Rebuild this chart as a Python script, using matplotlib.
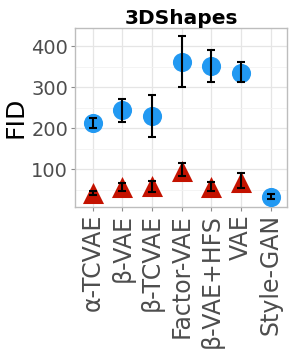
import matplotlib.pyplot as plt
import numpy as np

# Данные
models = ["α-TCVAE", "β-VAE", "β-TCVAE", "Factor-VAE", "β-VAE+HFS", "VAE", "Style-GAN"]
fid_circle = [212, 244, 231, 362, 353, 336, 32]
circle_lo = [201, 215, 179, 301, 313, 314, 27]
circle_hi = [224, 272, 282, 425, 392, 361, 38]

tri_models = ["α-TCVAE", "β-VAE", "β-TCVAE", "Factor-VAE", "β-VAE+HFS", "VAE"]
fid_tri = [41, 57, 58, 96, 57, 68]
tri_lo = [37, 47, 43, 83, 46, 54]
tri_hi = [47, 66, 72, 116, 69, 90]

yticks = [100, 200, 300, 400]

fig = plt.figure(figsize=(2.91, 3.64), dpi=100)
ax = fig.add_axes([0.258, 0.431, 0.728, 0.492])

xc = np.arange(len(models))
xt = np.array([models.index(m) for m in tri_models])

ax.scatter(xc, fid_circle, s=190, marker='o', color='#2299F2', zorder=3, linewidths=0)
ax.scatter(xt, fid_tri, s=230, marker='^', color='#C41200', zorder=3, linewidths=0)

ax.errorbar(xc, fid_circle,
            yerr=[np.array(fid_circle) - circle_lo, np.array(circle_hi) - fid_circle],
            fmt='none', ecolor='black', elinewidth=1.5, capsize=3, capthick=1.5, zorder=4)
ax.errorbar(xt, fid_tri,
            yerr=[np.array(fid_tri) - tri_lo, np.array(tri_hi) - fid_tri],
            fmt='none', ecolor='black', elinewidth=1.5, capsize=3, capthick=1.5, zorder=4)

ax.set_xlim(-0.6, 6.55)
ax.set_ylim(7, 445)
ax.set_xticks(xc)
ax.set_xticklabels(models, rotation=90, fontsize=17, color='#4D4D4D')
ax.set_yticks(yticks)
ax.set_yticklabels([str(v) for v in yticks], fontsize=14, color='#4D4D4D')
ax.set_yticks([50, 150, 250, 350], minor=True)
ax.tick_params(axis='both', which='major', length=3, color='#8C8C8C', pad=2)
ax.tick_params(axis='y', which='minor', length=0)

ax.grid(True, which='major', color='#E5E5E5', linewidth=0.9, zorder=0)
ax.grid(True, which='minor', axis='y', color='#F2F2F2', linewidth=0.6, zorder=0)
ax.set_axisbelow(True)
for sp in ax.spines.values():
    sp.set_color('#BDBDBD')
    sp.set_linewidth(1.0)

ax.set_ylabel("FID", fontsize=18, labelpad=3)
ax.set_title("3DShapes", fontsize=14.5, fontweight='bold', pad=3)

fig.savefig("out.png", dpi=100)
